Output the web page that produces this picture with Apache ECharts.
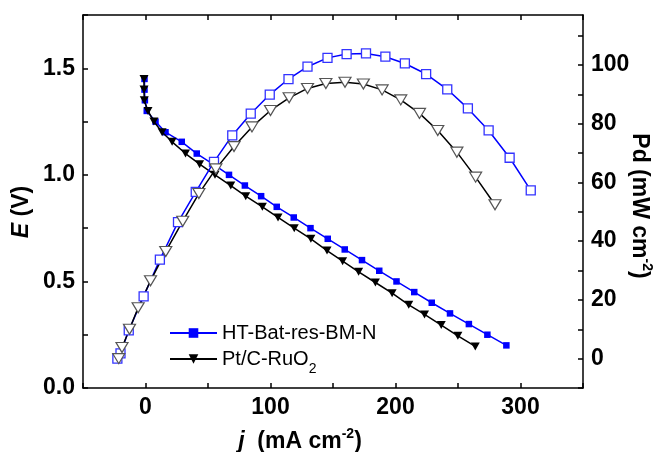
<!DOCTYPE html>
<html>
<head>
<meta charset="utf-8">
<script src="https://cdn.jsdelivr.net/npm/echarts@6/dist/echarts.min.js"></script>
<style>
html,body{margin:0;padding:0;background:#fff;}
#chart{width:661px;height:452px;}
</style>
</head>
<body>
<div id="chart"></div>
<script>
// ---- data ----
const seriesNames = ['HT-Bat-res-BM-N', 'Pt/C-RuO2'];

// Polarization (E vs j)
const jE_HT = [-0.8, -0.8, -0.5, 1, 8, 16, 29, 41, 54, 66.8, 79.5, 92.5, 105, 118.6, 132, 145.8, 159.4, 173.2, 187, 200.8, 215, 229, 243.6, 258.7, 273.5, 288.7];
const E_HT  = [1.45, 1.40, 1.35, 1.30, 1.25, 1.20, 1.155, 1.10, 1.05, 1.00, 0.95, 0.90, 0.85, 0.80, 0.75, 0.70, 0.65, 0.60, 0.55, 0.50, 0.45, 0.40, 0.35, 0.30, 0.25, 0.20];
const jE_Pt = [-1.2, -1.2, -1, 2, 6.7, 13.3, 21.3, 32, 43.3, 55.6, 68.2, 80.2, 93.5, 106, 119, 132.3, 145.2, 157.7, 170.5, 183.9, 197.3, 210.6, 223.2, 236.6, 249.9, 263.8];
const E_Pt  = [1.45, 1.40, 1.35, 1.30, 1.25, 1.20, 1.155, 1.10, 1.05, 1.00, 0.95, 0.90, 0.85, 0.80, 0.75, 0.70, 0.645, 0.595, 0.545, 0.495, 0.445, 0.39, 0.345, 0.295, 0.245, 0.195];

// Power density (Pd vs j)
const jPd_HT = [-22.5, -20, -13.4, -1.5, 11.5, 26, 40.2, 54.8, 69.4, 84.2, 99.4, 114.4, 129.6, 145.6, 160.9, 176.4, 191.9, 207.5, 224.5, 241.4, 257.9, 274.5, 291.3, 308.2];
const Pd_HT  = [0, 1.8, 9.6, 21.2, 33.7, 46.5, 56.8, 67, 76, 83.4, 89.9, 95.2, 99.4, 102.4, 103.7, 103.9, 102.8, 100.5, 96.9, 91.7, 85.2, 77.7, 68.4, 57.3];
const jPd_Pt = [-21.4, -18.8, -12.8, -5.9, 4, 16.2, 29.8, 42.7, 56.3, 70.8, 85.2, 100, 114.9, 129.6, 144.3, 159.6, 174.3, 189.3, 204.2, 219.2, 233.8, 249.1, 264.1, 279.6];
const Pd_Pt  = [0, 3.8, 10, 17.3, 26.5, 36.5, 46.8, 56.2, 64.6, 72.2, 78.9, 84.5, 88.8, 92, 93.7, 94.1, 93.5, 91.5, 88.1, 83.5, 77.7, 70.3, 61.8, 52.4];

// Tick labels
const xTickLabels = [0, 100, 200, 300];
const eTickLabels = [0.0, 0.5, 1.0, 1.5];
const pdTickLabels = [0, 20, 40, 60, 80, 100];

// ---- build chart ----
const zip = (a, b) => a.map((v, i) => [v, b[i]]);
const FONT = '"Liberation Sans", Arial, sans-serif';
const lblStyle = { color: '#000', fontFamily: FONT, fontWeight: 'bold', fontSize: 23 };
const axisLine = { show: true, onZero: false, lineStyle: { color: '#000', width: 1.5 } };
const has = (arr, v) => arr.some(t => Math.abs(t - v) < 1e-6);

const chart = echarts.init(document.getElementById('chart'), null, { renderer: 'canvas' });
chart.setOption({
  animation: false,
  backgroundColor: '#fff',
  grid: { left: 83, right: 78, top: 15, bottom: 64, containLabel: false },
  xAxis: [
    { type: 'value', min: -50, max: 350, interval: 50, position: 'bottom',
      axisLine: axisLine, splitLine: { show: false },
      axisTick: { show: true, inside: true, length: 5, lineStyle: { color: '#000', width: 1.5 } },
      axisLabel: Object.assign({ margin: 8, showMinLabel: true, showMaxLabel: true,
        formatter: v => has(xTickLabels, v) ? String(v) : '' }, lblStyle) },
    { type: 'value', min: -50, max: 350, interval: 50, position: 'top',
      axisLine: axisLine, splitLine: { show: false },
      axisTick: { show: true, inside: true, length: 5, lineStyle: { color: '#000', width: 1.5 } },
      axisLabel: { show: false } }
  ],
  yAxis: [
    { type: 'value', min: 0, max: 1.75, interval: 0.25, position: 'left',
      axisLine: axisLine, splitLine: { show: false },
      axisTick: { show: true, inside: true, length: 5, lineStyle: { color: '#000', width: 1.5 } },
      axisLabel: Object.assign({ margin: 8,
        formatter: v => has(eTickLabels, v) ? v.toFixed(1) : '' }, lblStyle) },
    { type: 'value', min: -10, max: 117, interval: 10, position: 'right',
      axisLine: axisLine, splitLine: { show: false },
      axisTick: { show: true, inside: true, length: 5, lineStyle: { color: '#000', width: 1.5 } },
      axisLabel: Object.assign({ margin: 8, showMaxLabel: false,
        formatter: v => has(pdTickLabels, v) ? String(v) : '' }, lblStyle) }
  ],
  legend: {
    data: seriesNames, orient: 'vertical', left: 164, top: 318,
    itemWidth: 47, itemHeight: 12, itemGap: 6,
    textStyle: { color: '#000', fontFamily: FONT, fontSize: 20,
      rich: { n: { fontFamily: FONT, fontSize: 20, color: '#000', lineHeight: 22 },
              s: { fontFamily: FONT, fontSize: 14, color: '#000', verticalAlign: 'bottom', lineHeight: 14, padding: [0, 0, -6, 0] } } },
    formatter: name => name === 'Pt/C-RuO2' ? '{n|Pt/C-RuO}{s|2}' : '{n|' + name + '}'
  },
  graphic: [
    { type: 'text', x: 22, y: 212, rotation: Math.PI / 2,
      style: { text: '{i|E}{n| (V)}', align: 'center', verticalAlign: 'middle',
        rich: { i: { fontFamily: FONT, fontSize: 23, fontWeight: 'bold', fontStyle: 'italic', fill: '#000' },
                n: { fontFamily: FONT, fontSize: 23, fontWeight: 'bold', fill: '#000' } } } },
    { type: 'text', x: 639, y: 206, rotation: -Math.PI / 2,
      style: { text: '{n|Pd (mW cm}{s|-2}{n|)}', align: 'center', verticalAlign: 'middle',
        rich: { n: { fontFamily: FONT, fontSize: 23, fontWeight: 'bold', fill: '#000', lineHeight: 30 },
                s: { fontFamily: FONT, fontSize: 14, fontWeight: 'bold', fill: '#000', verticalAlign: 'top', lineHeight: 14 } } } },
    { type: 'text', x: 300, y: 442,
      style: { text: '{i|j}{n|  (mA cm}{s|-2}{n|)}', align: 'center', verticalAlign: 'middle',
        rich: { i: { fontFamily: FONT, fontSize: 23, fontWeight: 'bold', fontStyle: 'italic', fill: '#000', lineHeight: 30 },
                n: { fontFamily: FONT, fontSize: 23, fontWeight: 'bold', fill: '#000', lineHeight: 30 },
                s: { fontFamily: FONT, fontSize: 14, fontWeight: 'bold', fill: '#000', verticalAlign: 'top', lineHeight: 14 } } } }
  ],
  series: [
    { name: seriesNames[0], type: 'line', xAxisIndex: 0, yAxisIndex: 0, data: zip(jE_HT, E_HT),
      symbol: 'rect', symbolSize: 6.5, showAllSymbol: true,
      lineStyle: { color: '#0000ff', width: 1.5 }, itemStyle: { color: '#0000ff' }, z: 3 },
    { name: seriesNames[1], type: 'line', xAxisIndex: 0, yAxisIndex: 0, data: zip(jE_Pt, E_Pt),
      symbol: 'triangle', symbolRotate: 180, symbolSize: [9, 8], showAllSymbol: true,
      lineStyle: { color: '#000', width: 1.5 }, itemStyle: { color: '#000' }, z: 4 },
    { name: 'HT-Bat-res-BM-N Pd', type: 'line', xAxisIndex: 0, yAxisIndex: 1, data: zip(jPd_HT, Pd_HT),
      symbol: 'rect', symbolSize: 9, showAllSymbol: true,
      lineStyle: { color: '#0000ff', width: 1.5 },
      itemStyle: { color: '#fff', borderColor: '#3333ff', borderWidth: 1.3 }, z: 5 },
    { name: 'Pt/C-RuO2 Pd', type: 'line', xAxisIndex: 0, yAxisIndex: 1, data: zip(jPd_Pt, Pd_Pt),
      symbol: 'triangle', symbolRotate: 180, symbolSize: [12, 10], showAllSymbol: true,
      lineStyle: { color: '#000', width: 1.5 },
      itemStyle: { color: '#fff', borderColor: '#555', borderWidth: 1.2 }, z: 5 }
  ]
});
</script>
</body>
</html>
